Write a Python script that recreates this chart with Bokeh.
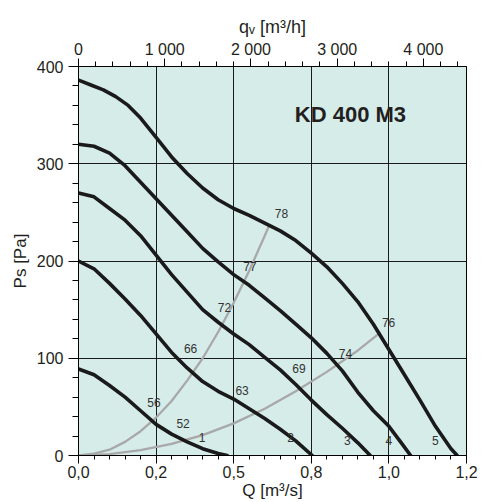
from bokeh.plotting import figure
from bokeh.models import Range1d, LinearAxis, FixedTicker, Grid, Label
from bokeh.core.properties import value
from bokeh.embed import file_html
from bokeh.resources import INLINE

# ---- data: Q [m3/s], Ps [Pa] ----
c1_q = [0.0, 0.05, 0.1, 0.15, 0.2, 0.25, 0.3, 0.35, 0.4, 0.45, 0.479]
c1_p = [89, 83, 72, 60, 46, 32, 22, 14, 7, 2, 0]
c2_q = [0.0, 0.05, 0.1, 0.15, 0.2, 0.25, 0.3, 0.35, 0.4, 0.45, 0.5, 0.55, 0.6, 0.65, 0.7, 0.753]
c2_p = [200, 192, 177, 161, 144, 125, 106, 90, 76, 66, 58, 48, 38, 27, 15, 0]
c3_q = [0.0, 0.05, 0.1, 0.15, 0.2, 0.25, 0.3, 0.35, 0.4, 0.45, 0.5, 0.55, 0.6, 0.65, 0.7, 0.75, 0.8, 0.85, 0.9, 0.94]
c3_p = [270, 266, 254, 242, 226, 206, 186, 168, 150, 137, 125, 114, 101, 88, 73, 57, 42, 28, 13, 0]
c4_q = [0.0, 0.05, 0.1, 0.15, 0.2, 0.25, 0.3, 0.35, 0.4, 0.45, 0.5, 0.55, 0.6, 0.65, 0.7, 0.75, 0.8, 0.85, 0.9, 0.95, 1.0, 1.04, 1.07]
c4_p = [320, 318, 311, 298, 281, 264, 247, 230, 213, 199, 186, 175, 162, 149, 135, 121, 105, 87, 65, 46, 30, 13, 0]
c5_q = [0.0, 0.04, 0.08, 0.12, 0.16, 0.2, 0.25, 0.3, 0.35, 0.4, 0.45, 0.5, 0.55, 0.6, 0.65, 0.7, 0.75, 0.8, 0.85, 0.9, 0.95, 1.0, 1.05, 1.1, 1.15, 1.2, 1.22]
c5_p = [386, 381, 376, 369, 360, 347, 327, 307, 290, 275, 263, 254, 247, 239, 231, 221, 208, 194, 177, 158, 135, 109, 83, 57, 30, 7, 0]

# system (efficiency) curves
s1_q = [0.0, 0.05, 0.1, 0.15, 0.2, 0.25, 0.3, 0.35, 0.4, 0.45, 0.5, 0.55, 0.6, 0.615]
s1_p = [0, 2, 6, 14, 25, 39, 56, 77, 100, 127, 157, 190, 226, 237]
s2_q = [0.0, 0.1, 0.2, 0.3, 0.4, 0.5, 0.6, 0.7, 0.8, 0.9, 0.967]
s2_p = [0, 1.5, 5.5, 12, 21, 33, 48, 66, 86, 108, 125]

# curve annotations
lab_t = ["78", "77", "72", "66", "56", "52", "1", "63", "69", "74", "76", "2", "3", "4", "5"]
lab_q = [0.654, 0.552, 0.470, 0.361, 0.243, 0.337, 0.398, 0.527, 0.710, 0.860, 0.999, 0.683, 0.866, 1.0, 1.15]
lab_p = [249, 194, 152, 110, 55, 33, 18, 67, 89, 105, 137, 19, 15, 15, 15]

# axes
q_ticks = [0.0, 0.25, 0.5, 0.75, 1.0, 1.25]
q_labels = ["0,0", "0,2", "0,5", "0,8", "1,0", "1,2"]
qv_ticks = [0, 1000, 2000, 3000, 4000]
qv_labels = ["0", "1 000", "2 000", "3 000", "4 000"]
ps_ticks = [0, 100, 200, 300, 400]

FONT = "Liberation Sans"
TXT = "#231f20"

p = figure(width=488, height=502,
           x_range=Range1d(0, 1.25), y_range=Range1d(0, 400),
           x_axis_type=None, y_axis_type=None,
           output_backend="svg", toolbar_location=None,
           min_border_left=78, min_border_top=66,
           min_border_right=22, min_border_bottom=40,
           background_fill_color="#d5ece9", border_fill_color="white",
           outline_line_color="black", outline_line_width=1)
p.extra_x_ranges = {"qv": Range1d(0, 4500)}

def style(ax, tick_out, minor_out, std):
    ax.axis_line_color = "black"
    ax.major_tick_line_color = "black"
    ax.minor_tick_line_color = "black"
    ax.major_tick_in = 0
    ax.minor_tick_in = 0
    ax.major_tick_out = tick_out
    ax.minor_tick_out = minor_out
    ax.major_label_text_font = FONT
    ax.major_label_text_font_size = "16px"
    ax.major_label_text_color = TXT
    ax.major_label_standoff = std
    ax.axis_label_text_font = FONT
    ax.axis_label_text_font_size = "17px"
    ax.axis_label_text_font_style = "normal"
    ax.axis_label_text_color = TXT

xt = FixedTicker(ticks=q_ticks, minor_ticks=[i * 0.05 for i in range(26)])
xb = LinearAxis(ticker=xt, axis_label="Q [m³/s]",
                major_label_overrides=dict(zip(q_ticks, q_labels)))
style(xb, 8, 4, 2)
xb.axis_label_standoff = 0
p.add_layout(xb, "below")

xtt = FixedTicker(ticks=qv_ticks, minor_ticks=[i * 200 for i in range(23)])
xa = LinearAxis(ticker=xtt, x_range_name="qv", axis_label="qᵥ [m³/h]",
                major_label_overrides=dict(zip(qv_ticks, qv_labels)))
style(xa, 8, 5, 1)
xa.axis_label_standoff = 1
xa.axis_label_text_font_size = "18px"
p.add_layout(xa, "above")

yt = FixedTicker(ticks=ps_ticks, minor_ticks=list(range(0, 401, 20)))
yl = LinearAxis(ticker=yt, axis_label="Ps [Pa]")
style(yl, 10, 6, 5)
yl.axis_label_standoff = 4
p.add_layout(yl, "left")

p.add_layout(Grid(dimension=0, ticker=xt, grid_line_color="#1a1a1a", grid_line_width=1))
p.add_layout(Grid(dimension=1, ticker=yt, grid_line_color="#1a1a1a", grid_line_width=1))

# gray system curves
for sq, sp in [(s1_q, s1_p), (s2_q, s2_p)]:
    p.line(sq, sp, line_color="#a8a8a8", line_width=2.3, line_join="round")

# black fan curves
for cq, cp in [(c1_q, c1_p), (c2_q, c2_p), (c3_q, c3_p), (c4_q, c4_p), (c5_q, c5_p)]:
    p.line(cq, cp, line_color="#1a1a1a", line_width=3.6, line_join="round", line_cap="round")

p.text(x=lab_q, y=lab_p, text=lab_t, text_font=value(FONT), text_font_size="12px",
       text_color="#333333", text_align="center", text_baseline="middle")

p.add_layout(Label(x=0.876, y=351, text="KD 400 M3", text_font=FONT, text_font_size="22px",
                   text_font_style="bold", text_color=TXT, text_align="center",
                   text_baseline="middle"))
p.add_layout(Label(x=1.3006, y=371, text="5119", text_font=FONT, text_font_size="11px",
                   text_color=TXT, text_align="center", text_baseline="middle", angle=1.5708))

open("out.html", "w").write(file_html(p, INLINE))
